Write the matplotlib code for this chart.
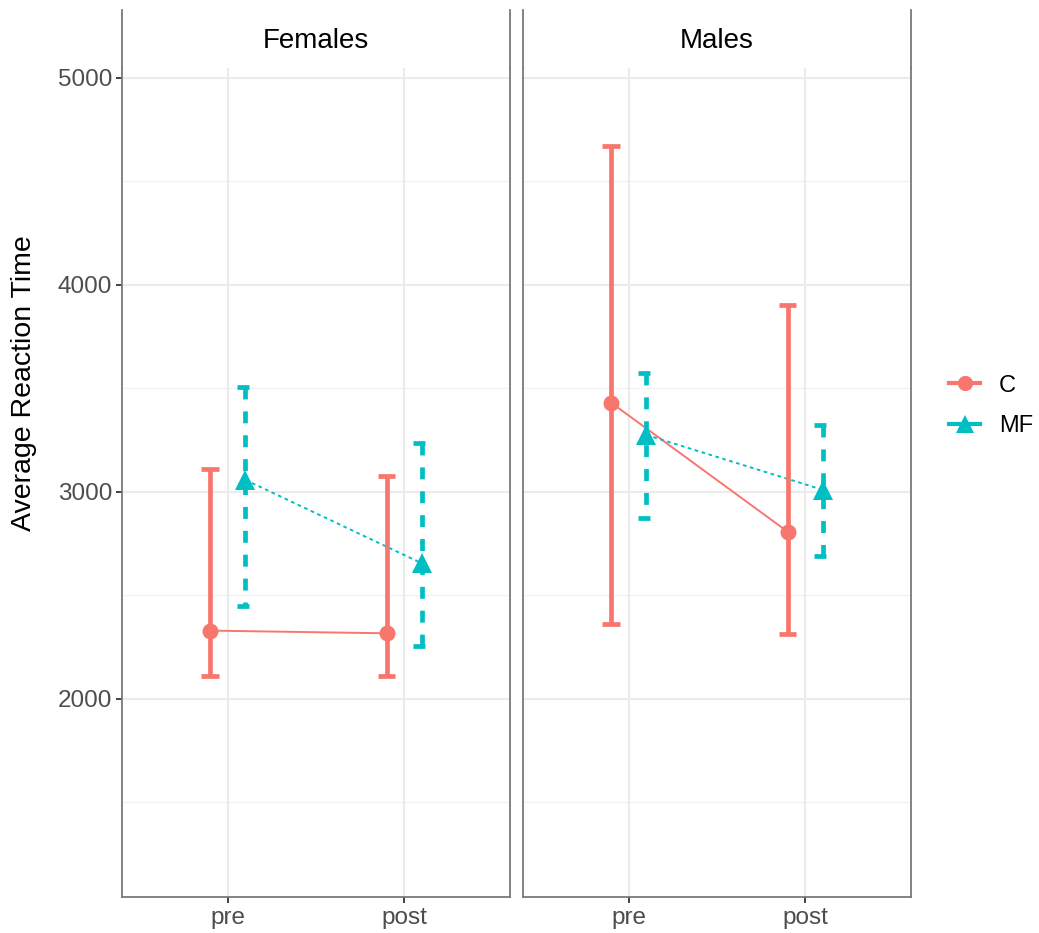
import matplotlib
matplotlib.use("Agg")
import matplotlib.pyplot as plt
from matplotlib.lines import Line2D

plt.rcParams['font.family'] = ['Liberation Sans', 'DejaVu Sans']
plt.rcParams['lines.scale_dashes'] = False

# data
panels = ["Females", "Males"]
times = ["pre", "post"]
groups = ["C", "MF"]

fem_C_mean = [2330, 2317]
fem_C_low = [2111, 2111]
fem_C_high = [3110, 3077]
fem_MF_mean = [3058, 2655]
fem_MF_low = [2451, 2256]
fem_MF_high = [3506, 3238]

mal_C_mean = [3431, 2808]
mal_C_low = [2361, 2312]
mal_C_high = [4673, 3902]
mal_MF_mean = [3275, 3010]
mal_MF_low = [2876, 2691]
mal_MF_high = [3573, 3324]

colors = {"C": "#F8766D", "MF": "#00BFC4"}
dodge = {"C": -0.1, "MF": 0.1}
markers = {"C": "o", "MF": "^"}
msizes = {"C": 11.5, "MF": 14}
line_styles = {"C": "-", "MF": (0, (2.6, 2.6))}
bar_styles = {"C": "-", "MF": (0, (8.6, 8.6))}

data = {
    "Females": {"C": (fem_C_mean, fem_C_low, fem_C_high),
                "MF": (fem_MF_mean, fem_MF_low, fem_MF_high)},
    "Males": {"C": (mal_C_mean, mal_C_low, mal_C_high),
              "MF": (mal_MF_mean, mal_MF_low, mal_MF_high)},
}

W, H = 1039, 933
fig = plt.figure(figsize=(W / 100, H / 100), dpi=100)

top_px, bot_px = 68, 897
lefts = [122, 523]
pw = 388
border_col = "#7A7A7A"
cap_half = 0.05

for i, name in enumerate(panels):
    ax = fig.add_axes([lefts[i] / W, 1 - bot_px / H, pw / W, (bot_px - top_px) / H])
    ax.set_xlim(-0.6, 1.6)
    ax.set_ylim(1043, 5048)

    # grid by hand so it sits under everything
    for yv in [1500, 2500, 3500, 4500]:
        ax.axhline(yv, color="#F2F2F2", lw=1.0, zorder=0)
    for yv in [2000, 3000, 4000, 5000]:
        ax.axhline(yv, color="#EBEBEB", lw=1.5, zorder=0)
    for xv in range(len(times)):
        ax.axvline(xv, color="#EBEBEB", lw=1.5, zorder=0)

    for g in groups:
        mean, low, high = data[name][g]
        xs = [k + dodge[g] for k in range(len(times))]
        ax.plot(xs, mean, color=colors[g], lw=1.4, linestyle=line_styles[g],
                dash_capstyle="butt", zorder=2)
        for x, lo, hi in zip(xs, low, high):
            # errorbar as three separate pieces: top cap, stem, bottom cap
            for px, py in [([x - cap_half, x + cap_half], [hi, hi]),
                           ([x, x], [hi, lo]),
                           ([x - cap_half, x + cap_half], [lo, lo])]:
                ax.plot(px, py, color=colors[g], lw=3.4, linestyle=bar_styles[g],
                        dash_capstyle="butt", solid_capstyle="butt", zorder=3)
        ax.plot(xs, mean, linestyle="none", marker=markers[g], ms=msizes[g],
                color=colors[g], markeredgewidth=0, zorder=4)

    ax.set_xticks(range(len(times)))
    ax.set_xticklabels(times)
    ax.set_yticks([2000, 3000, 4000, 5000])
    ax.tick_params(axis="both", labelsize=17.5, labelcolor="#4D4D4D",
                   color="#333333", length=4, width=1.3, pad=3)
    if i > 0:
        ax.tick_params(axis="y", left=False, labelleft=False)
    ax.spines["top"].set_visible(False)
    for s in ["left", "right", "bottom"]:
        ax.spines[s].set_color(border_col)
        ax.spines[s].set_linewidth(1.3)

    # strip: side borders continue up, label centred
    for xp in [lefts[i], lefts[i] + pw]:
        fig.add_artist(Line2D([xp / W, xp / W], [1 - top_px / H, 1 - 10 / H],
                              color=border_col, lw=1.3))
    fig.text((lefts[i] + pw / 2) / W, 1 - 41 / H, name, fontsize=20,
             ha="center", va="center")

fig.text(24 / W, 1 - 383 / H, "Average Reaction Time", fontsize=20.5,
         rotation=90, ha="center", va="center")

handles = [Line2D([], [], color=colors[g], lw=3.0, marker=markers[g],
                  ms=msizes[g] * 0.95, markeredgewidth=0) for g in groups]
fig.legend(handles, groups, loc="center left", bbox_to_anchor=(940 / W, 1 - 406 / H),
           frameon=False, fontsize=17, handlelength=1.3, handletextpad=0.8,
           labelspacing=0.8, borderaxespad=0)

fig.savefig("out.png", dpi=100)
